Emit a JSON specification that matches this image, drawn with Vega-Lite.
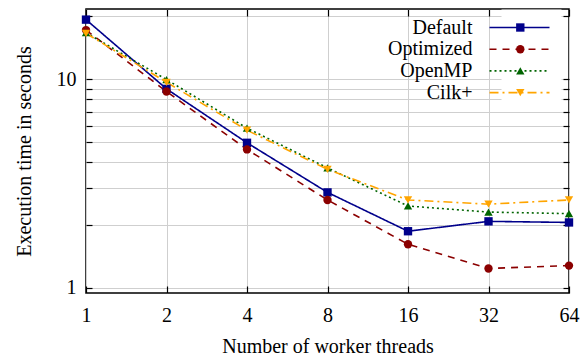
{
  "$schema": "https://vega.github.io/schema/vega-lite/v6.json",
  "width": 483,
  "height": 284,
  "autosize": "none",
  "padding": {"left": 86, "top": 9, "right": 18, "bottom": 65},
  "background": "white",
  "config": {
    "font": "Liberation Serif",
    "view": {"stroke": "black", "strokeWidth": 1.5},
    "axis": {
      "labelFont": "Liberation Serif",
      "titleFont": "Liberation Serif",
      "labelFontSize": 20,
      "titleFontSize": 20,
      "titleFontWeight": "normal",
      "labelColor": "black",
      "titleColor": "black",
      "tickColor": "black",
      "tickWidth": 1.2,
      "gridColor": "#cfcfcf",
      "gridWidth": 1,
      "domain": false,
      "labelFlush": false
    },
    "legend": {
      "labelFont": "Liberation Serif",
      "labelFontSize": 20,
      "labelColor": "black"
    }
  },
  "data": {
    "values": [
      {"series": "Default", "threads": 1, "time": 19.3},
      {"series": "Default", "threads": 2, "time": 8.99},
      {"series": "Default", "threads": 4, "time": 4.96},
      {"series": "Default", "threads": 8, "time": 2.87},
      {"series": "Default", "threads": 16, "time": 1.87},
      {"series": "Default", "threads": 32, "time": 2.085},
      {"series": "Default", "threads": 64, "time": 2.06},
      {"series": "Optimized", "threads": 1, "time": 17.2},
      {"series": "Optimized", "threads": 2, "time": 8.73},
      {"series": "Optimized", "threads": 4, "time": 4.61},
      {"series": "Optimized", "threads": 8, "time": 2.64},
      {"series": "Optimized", "threads": 16, "time": 1.62},
      {"series": "Optimized", "threads": 32, "time": 1.24},
      {"series": "Optimized", "threads": 64, "time": 1.28},
      {"series": "OpenMP", "threads": 1, "time": 16.7},
      {"series": "OpenMP", "threads": 2, "time": 9.97},
      {"series": "OpenMP", "threads": 4, "time": 5.83},
      {"series": "OpenMP", "threads": 8, "time": 3.76},
      {"series": "OpenMP", "threads": 16, "time": 2.47},
      {"series": "OpenMP", "threads": 32, "time": 2.31},
      {"series": "OpenMP", "threads": 64, "time": 2.27},
      {"series": "Cilk+", "threads": 1, "time": 16.6},
      {"series": "Cilk+", "threads": 2, "time": 9.67},
      {"series": "Cilk+", "threads": 4, "time": 5.70},
      {"series": "Cilk+", "threads": 8, "time": 3.70},
      {"series": "Cilk+", "threads": 16, "time": 2.64},
      {"series": "Cilk+", "threads": 32, "time": 2.52},
      {"series": "Cilk+", "threads": 64, "time": 2.64}
    ]
  },
  "resolve": {
    "legend": {"color": "independent", "shape": "independent", "strokeDash": "independent"},
    "axis": {"x": "independent", "y": "independent"}
  },
  "layer": [
    {
      "mark": {"type": "line", "strokeWidth": 1.6},
      "encoding": {
        "x": {
          "field": "threads", "type": "quantitative",
          "scale": {"type": "log", "base": 2, "domain": [1, 64], "nice": false},
          "axis": {
            "values": [1, 2, 4, 8, 16, 32, 64],
            "format": "d",
            "title": "Number of worker threads",
            "grid": true,
            "tickSize": -7,
            "labelPadding": 19,
            "titlePadding": 11
          }
        },
        "y": {
          "field": "time", "type": "quantitative",
          "scale": {"type": "log", "domain": [0.946, 21.7], "nice": false},
          "axis": {
            "values": [1, 2, 3, 4, 5, 6, 7, 8, 9, 10, 20],
            "labelExpr": "datum.value == 1 ? '1' : (datum.value == 10 ? '10' : '')",
            "title": "Execution time in seconds",
            "grid": true,
            "tickSize": -6,
            "labelPadding": 16,
            "titlePadding": 22
          }
        },
        "color": {
          "field": "series", "type": "nominal",
          "scale": {"domain": ["Default", "Optimized", "OpenMP", "Cilk+"], "range": ["#00008b", "#8b0000", "#006400", "#ffa500"]},
          "legend": {
            "title": null, "orient": "none", "legendX": 415.5, "legendY": 0.5,
            "symbolType": "M-6,0H6", "symbolSize": 100, "symbolStrokeWidth": 1.6,
            "labelAlign": "right", "labelOffset": -57,
            "rowPadding": 1.7, "padding": 8, "fillColor": "white"
          }
        },
        "strokeDash": {
          "field": "series", "type": "nominal",
          "scale": {"domain": ["Default", "Optimized", "OpenMP", "Cilk+"], "range": [[1, 0], [7, 6], [2, 3], [9, 4, 2, 4]]},
          "legend": {
            "title": null, "orient": "none", "legendX": 415.5, "legendY": 0.5,
            "symbolType": "M-6,0H6", "symbolSize": 100, "symbolStrokeWidth": 1.6,
            "labelAlign": "right", "labelOffset": -57,
            "rowPadding": 1.7, "padding": 8, "fillColor": "white"
          }
        }
      }
    },
    {
      "mark": {"type": "point", "filled": true, "size": 70, "opacity": 1},
      "encoding": {
        "x": {"field": "threads", "type": "quantitative", "axis": null},
        "y": {"field": "time", "type": "quantitative", "axis": null},
        "color": {
          "field": "series", "type": "nominal",
          "legend": {
            "title": null, "orient": "none", "legendX": 424.3, "legendY": 8.5,
            "symbolSize": 70, "labelExpr": "' '", "labelAlign": "right", "labelOffset": -30,
            "rowPadding": 1.7, "padding": 0
          }
        },
        "shape": {
          "field": "series", "type": "nominal",
          "scale": {"domain": ["Default", "Optimized", "OpenMP", "Cilk+"], "range": ["square", "circle", "triangle-up", "triangle-down"]},
          "legend": {
            "title": null, "orient": "none", "legendX": 424.3, "legendY": 8.5,
            "symbolSize": 70, "labelExpr": "' '", "labelAlign": "right", "labelOffset": -30,
            "rowPadding": 1.7, "padding": 0
          }
        }
      }
    },
    {
      "mark": {"type": "point", "opacity": 0},
      "encoding": {
        "x": {
          "field": "threads", "type": "quantitative",
          "axis": {"orient": "top", "values": [1, 2, 4, 8, 16, 32, 64], "labels": false, "title": null, "grid": false, "tickSize": -7}
        },
        "y": {
          "field": "time", "type": "quantitative",
          "axis": {"orient": "right", "values": [1, 2, 3, 4, 5, 6, 7, 8, 9, 10, 20], "labels": false, "title": null, "grid": false, "tickSize": -6}
        }
      }
    }
  ]
}
